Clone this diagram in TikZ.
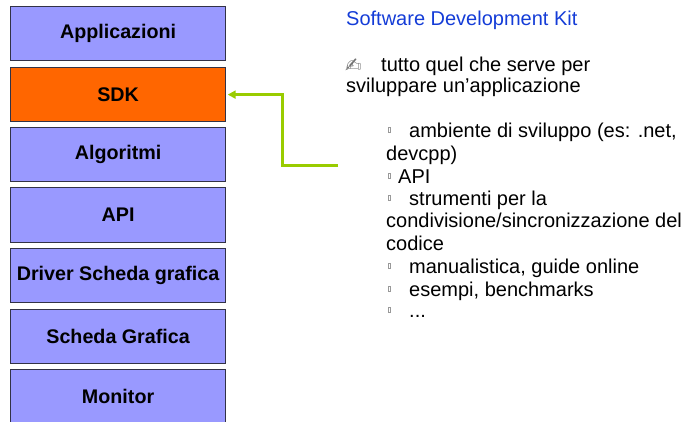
\documentclass[tikz,border=0pt]{standalone}
\usepackage{fontspec}
\setmainfont{Liberation Sans}
\newfontfamily\symfont{DejaVu Sans}
\usetikzlibrary{arrows.meta}
\definecolor{boxblue}{RGB}{153,153,255}
\definecolor{sdkorange}{RGB}{255,102,0}
\definecolor{arrowgreen}{RGB}{153,204,0}
\definecolor{titleblue}{RGB}{20,60,215}
\definecolor{edge}{RGB}{50,50,70}
\begin{document}
\begin{tikzpicture}[x=1pt,y=-1pt,
  layer/.style={draw=edge, line width=1.2pt, fill=boxblue, minimum width=215pt,
    minimum height=54pt, inner sep=0pt, anchor=north west,
    font=\fontsize{19.7}{23}\selectfont\bfseries},
  txt/.style={anchor=base west, inner sep=0pt, font=\fontsize{20}{23}\selectfont},
  bul/.style={draw=gray!80, line width=0.5pt, fill=white}
]
\useasboundingbox (0,0) rectangle (687,421);

% stack of layers
\node[layer] (app) at (10,6)   {Applicazioni};
\node[layer, fill=sdkorange] (sdk) at (10,67) {SDK};
\node[layer] (alg) at (10,127) {Algoritmi};
\node[layer, minimum height=55pt] (api) at (10,187) {API};
\node[layer] (drv) at (10,248) {Driver Scheda grafica};
\node[layer] (gpu) at (10,309) {Scheda Grafica};
\node[layer] (mon) at (10,369) {Monitor};

% green connector
\coordinate (src) at (338,165);
\draw[arrowgreen, line width=3pt, -{Triangle[length=8pt,width=8pt]}]
  (src) -- (282,165) |- ([xshift=1.5pt]sdk.east);

% text on the right
\node[txt, text=titleblue] (title) at (346,25) {Software Development Kit};
\node[anchor=base west, inner sep=0pt, text=gray!90!black,
  font=\symfont\fontsize{20}{20}\selectfont] (hand) at (345,72) {✍};
\node[txt] (l1) at (381,71) {tutto quel che serve per};
\node[txt] (l2) at (346,92) {sviluppare un’applicazione};

\node[txt] (b1) at (409,137) {ambiente di sviluppo (es: .net,};
\node[txt] (b1b) at (386,160) {devcpp)};
\node[txt] (b2) at (398,183) {API};
\node[txt] (b3) at (409,205) {strumenti per la};
\node[txt] (b3b) at (386,227) {condivisione/sincronizzazione del};
\node[txt] (b3c) at (386,250) {codice};
\node[txt] (b4) at (409,273) {manualistica, guide online};
\node[txt] (b5) at (409,296) {esempi, benchmarks};
\node[txt] (b6) at (409,317) {...};

\foreach \b in {137,183,205,273,296,317}
  \draw[bul] (388,\b-10) rectangle (390.5,\b-5);
\end{tikzpicture}
\end{document}
